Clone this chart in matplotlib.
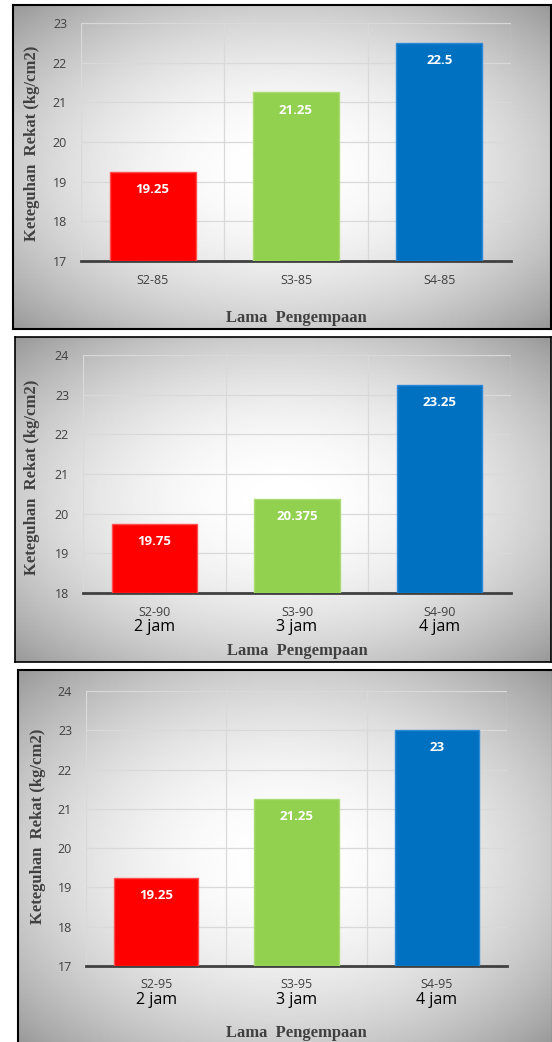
import numpy as np
import matplotlib
matplotlib.use('Agg')
import matplotlib.pyplot as plt

# data
cats_85 = ['S2-85', 'S3-85', 'S4-85']
vals_85 = [19.25, 21.25, 22.5]
cats_90 = ['S2-90', 'S3-90', 'S4-90']
vals_90 = [19.75, 20.375, 23.25]
cats_95 = ['S2-95', 'S3-95', 'S4-95']
vals_95 = [19.25, 21.25, 23]
jam = ['2 jam', '3 jam', '4 jam']
bar_colors = ['#FF0000', '#92D050', '#0070C0']
edge_colors = ['#FF5050', '#A9DC72', '#2E8AD6']

W, H = 552, 1042
fig = plt.figure(figsize=(W / 100, H / 100), dpi=100)
tick_font = 'Open Sans'
serif = 'Liberation Serif'


def rect(x0, y0, x1, y1):
    return [x0 / W, 1 - y1 / H, (x1 - x0) / W, (y1 - y0) / H]


def frame(x0, y0, x1, y1, lw=1.5, ec='black'):
    bg = fig.add_axes(rect(x0, y0, x1, y1), zorder=0)
    yy, xx = np.mgrid[-1:1:200j, -1:1:200j]
    r = np.sqrt(xx ** 2 + yy ** 2)
    g = np.clip(1 - 0.2 * r ** 2, 0, 1)
    bg.imshow(g, cmap='gray', vmin=0, vmax=1, extent=[0, 1, 0, 1],
              aspect='auto', interpolation='bilinear')
    bg.set_xticks([])
    bg.set_yticks([])
    for s in bg.spines.values():
        s.set_color(ec)
        s.set_linewidth(lw)
    return bg


def panel(ax_box, cats, vals, ylim, label_box, xlab_y, jam_labels=None):
    ax = fig.add_axes(rect(*ax_box), zorder=2)
    ax.patch.set_alpha(0)
    x = np.arange(len(cats))
    ax.bar(x, [v - ylim[0] for v in vals], bottom=ylim[0], width=0.6,
           color=bar_colors, edgecolor=edge_colors, linewidth=1, zorder=3)
    for xi, v in zip(x, vals):
        ax.annotate(f'{v:g}', (xi, v), xytext=(0, -8), textcoords='offset points',
                    ha='center', va='top', color='white', fontsize=9.5,
                    fontweight='bold', family=tick_font, zorder=4)
    ax.set_xlim(-0.5, len(cats) - 0.5)
    ax.set_ylim(*ylim)
    ax.set_yticks(range(ylim[0], ylim[1] + 1))
    ax.set_xticks(x)
    ax.set_xticklabels(cats, fontsize=9, color='#404040', family=tick_font)
    ax.tick_params(axis='y', labelsize=9, labelcolor='#404040', length=0, pad=10)
    for lab in ax.get_yticklabels():
        lab.set_family(tick_font)
    ax.tick_params(axis='x', length=0, pad=9)
    ax.set_xticks(np.arange(-0.5, len(cats), 1), minor=True)
    ax.tick_params(axis='x', which='minor', length=0)
    ax.grid(axis='y', color='#d9d9d9', linewidth=0.9, zorder=0)
    ax.grid(axis='x', which='minor', color='#d9d9d9', linewidth=0.9, zorder=0)
    ax.grid(axis='x', which='major', visible=False)
    for s in ['top', 'right', 'left']:
        ax.spines[s].set_visible(False)
    ax.spines['bottom'].set_color('#404040')
    ax.spines['bottom'].set_linewidth(2)
    if jam_labels is not None:
        for xi, j in zip(x, jam_labels):
            ax.annotate(j, (xi, 0), xycoords=('data', 'axes fraction'),
                        xytext=(0, -19), textcoords='offset points',
                        ha='center', va='top', fontsize=11.5, color='black',
                        family=tick_font)
    lx, ly = label_box
    fig.text(lx / W, 1 - ly / H, 'Keteguhan  Rekat (kg/cm2)', rotation=90,
             ha='center', va='center', fontsize=12, fontweight='bold',
             family=serif, color='#404040')
    cx = (ax_box[0] + ax_box[2]) / 2
    fig.text(cx / W, 1 - xlab_y / H, 'Lama  Pengempaan', ha='center', va='center',
             fontsize=12, fontweight='bold', family=serif, color='#404040')
    return ax


frame(13, 5, 551, 329)
panel((81, 23, 511, 261), cats_85, vals_85, (17, 23), (32, 143), 318)

frame(15, 337, 551, 662, lw=1.2)
panel((83, 355, 511, 593), cats_90, vals_90, (18, 24), (32, 477), 651, jam)

frame(18, 670, 553, 1045)
panel((86, 691, 507, 966), cats_95, vals_95, (17, 24), (38, 826), 1033, jam)

fig.savefig('out.png', dpi=100)
